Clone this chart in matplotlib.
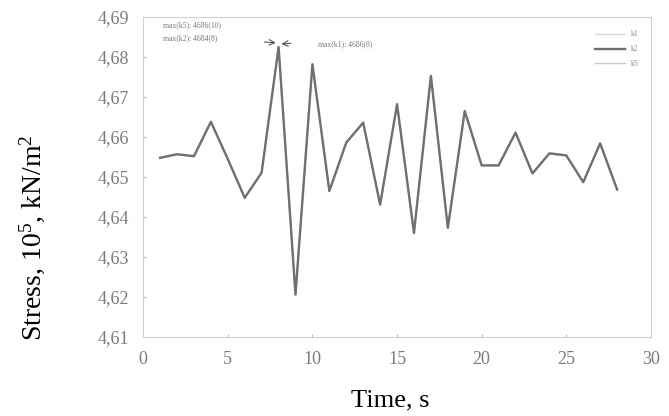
import matplotlib.pyplot as plt
from matplotlib.ticker import MultipleLocator, FuncFormatter

plt.rcParams['font.family'] = ['Liberation Serif', 'DejaVu Serif']
plt.rcParams['mathtext.fontset'] = 'custom'
plt.rcParams['mathtext.rm'] = 'Liberation Serif'
plt.rcParams['mathtext.it'] = 'Liberation Serif:italic'

t = list(range(1, 29))
k2 = [4.6548, 4.6557, 4.6552, 4.6638, 4.6545, 4.6448, 4.6511, 4.6825,
      4.6206, 4.6782, 4.6465, 4.6586, 4.6636, 4.6431, 4.6682, 4.6360,
      4.6753, 4.6373, 4.6665, 4.6529, 4.6529, 4.6611, 4.6509, 4.6559,
      4.6554, 4.6487, 4.6584, 4.6469]
# k1 and k5 lie practically on top of k2 in the picture
k1 = [4.6547, 4.6556, 4.6553, 4.6637, 4.6546, 4.6447, 4.6512, 4.6828,
      4.6205, 4.6780, 4.6466, 4.6585, 4.6635, 4.6432, 4.6680, 4.6361,
      4.6752, 4.6374, 4.6664, 4.6530, 4.6528, 4.6610, 4.6510, 4.6558,
      4.6553, 4.6488, 4.6583, 4.6470]
k5 = [4.6549, 4.6557, 4.6551, 4.6639, 4.6544, 4.6449, 4.6510, 4.6826,
      4.6207, 4.6783, 4.6464, 4.6587, 4.6637, 4.6430, 4.6683, 4.6359,
      4.6754, 4.6372, 4.6666, 4.6528, 4.6530, 4.6612, 4.6508, 4.6560,
      4.6555, 4.6486, 4.6585, 4.6468]

fig = plt.figure(figsize=(6.69, 4.16), dpi=100)
ax = fig.add_axes([0.214, 0.19, 0.759, 0.769])

ax.plot(t, k1, color='#d8d8d8', linewidth=1.0, label='k1')
ax.plot(t, k5, color='#c8c8c8', linewidth=1.0, label='k5')
ax.plot(t, k2, color='#707070', linewidth=1.7, label='k2')

ax.set_xlim(0, 30)
ax.set_ylim(4.61, 4.69)
ax.xaxis.set_major_locator(MultipleLocator(5))
ax.yaxis.set_major_locator(MultipleLocator(0.01))
ax.yaxis.set_major_formatter(FuncFormatter(lambda v, p: ('%.2f' % v).replace('.', ',')))
ax.tick_params(axis='both', direction='in', length=2, colors='#bbbbbb',
               labelcolor='#7a7a7a', labelsize=13, pad=10)
for s in ax.spines.values():
    s.set_color('#d0d0d0')
    s.set_linewidth(0.8)

ax.set_xlabel('Time, s', fontsize=19)
ax.xaxis.set_label_coords(0.487, -0.165)
ax.set_ylabel('Stress, 10$^5$, kN/m$^2$', fontsize=20)
ax.yaxis.set_label_coords(-0.19, 0.31)

# peak annotations
ax.text(1.2, 4.6874, 'max(k5): 4686(10)', fontsize=5.5, color='#777777')
ax.text(1.2, 4.6841, 'max(k2): 4684(8)', fontsize=5.5, color='#777777')
ax.text(10.3, 4.6826, 'max(k1): 4686(8)', fontsize=5.5, color='#777777')
ax.annotate('', xy=(8.0, 4.6835), xytext=(7.0, 4.6838),
            arrowprops=dict(arrowstyle='->', color='#555555', lw=0.8))
ax.annotate('', xy=(8.0, 4.6832), xytext=(8.9, 4.6835),
            arrowprops=dict(arrowstyle='->', color='#555555', lw=0.8))

h, l = ax.get_legend_handles_labels()
order = [0, 2, 1]
ax.legend([h[i] for i in order], [l[i] for i in order], loc='upper right',
          bbox_to_anchor=(0.99, 0.98), frameon=False, fontsize=5.5,
          labelcolor='#888888', handlelength=4, labelspacing=0.9)

plt.savefig('out.png', dpi=100)
